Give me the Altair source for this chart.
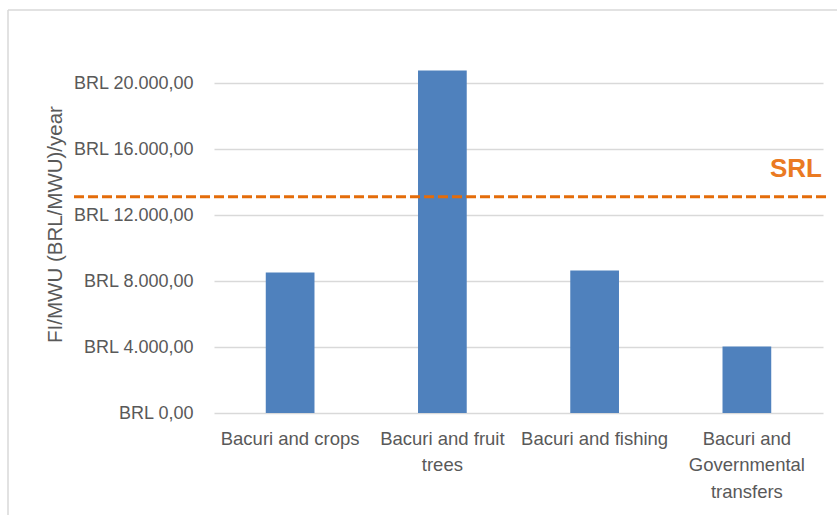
import altair as alt
import pandas as pd

categories = ["Bacuri and crops", "Bacuri and fruit\ntrees", "Bacuri and fishing",
              "Bacuri and\nGovernmental\ntransfers"]
values = [8530, 20780, 8650, 4040]
srl_value = [13120]
srl_label = ["SRL"]
y_ticks = [0, 4000, 8000, 12000, 16000, 20000]

bars_df = pd.DataFrame({"category": categories, "value": values})
srl_df = pd.DataFrame({"value": srl_value, "label": srl_label})

FONT = "Liberation Sans"
GRAY = "#595959"
ORANGE = "#E46C0A"
Y_TITLE = "FI/MWU (BRL/MWU)/year"

x_enc = alt.X("category:N", sort=categories, title=None,
              scale=alt.Scale(paddingInner=0.68, paddingOuter=0.34),
              axis=alt.Axis(labelAngle=0, labelExpr="split(datum.label, '\\n')",
                            labelFont=FONT, labelFontSize=18.5, labelColor=GRAY,
                            labelLineHeight=26.7, labelPadding=16, labelBaseline="top",
                            ticks=False, domain=False, grid=False, labelLimit=200))

y_scale = alt.Scale(domain=[0, 23000], nice=False)
y_axis = alt.Axis(values=y_ticks,
                  labelExpr="'BRL ' + replace(replace(replace(format(datum.value, ',.2f'), ',', '#'), '.', ','), '#', '.')",
                  labelFont=FONT, labelFontSize=18, labelColor=GRAY,
                  labelPadding=21, ticks=False, domain=False,
                  grid=True, gridColor="#D9D9D9", gridWidth=1.3,
                  titleFont=FONT, titleFontSize=20.5, titleColor=GRAY,
                  titleFontWeight="normal", titleX=-159, titleY=190,
                  titleAngle=-90, titleAlign="center", titleBaseline="middle")

bars = alt.Chart(bars_df).mark_bar(color="#4F81BD").encode(
    x=x_enc,
    y=alt.Y("value:Q", scale=y_scale, title=Y_TITLE, axis=y_axis)
)

srl_line = alt.Chart(srl_df).mark_rule(color=ORANGE, strokeWidth=3, strokeDash=[10, 4]).encode(
    y=alt.Y("value:Q", scale=y_scale, title=Y_TITLE, axis=y_axis),
    x=alt.value(-140), x2=alt.value(613)
)

srl_text = alt.Chart(srl_df).mark_text(
    font=FONT, fontSize=26, fontWeight="bold", color="#EA7A22",
    align="right", baseline="alphabetic", dy=-20
).encode(
    y=alt.Y("value:Q", scale=y_scale, title=Y_TITLE, axis=y_axis),
    x=alt.value(608), text="label:N"
)

border_left = alt.Chart(srl_df).mark_rule(color="#D9D9D9", strokeWidth=1.5).encode(
    x=alt.value(-206), y=alt.value(-24), y2=alt.value(490)
)
border_top = alt.Chart(srl_df).mark_rule(color="#D9D9D9", strokeWidth=1.5).encode(
    x=alt.value(-206), x2=alt.value(630), y=alt.value(-24)
)

chart = alt.layer(bars, srl_line, srl_text, border_left, border_top).properties(
    width=609, height=379,
    autosize=alt.AutoSizeParams(type="none"),
    padding={"left": 214, "top": 34, "right": 14, "bottom": 102},
    background="white"
).configure_view(stroke=None)

chart.save("out.html", embed_options={"renderer": "svg", "actions": False})
